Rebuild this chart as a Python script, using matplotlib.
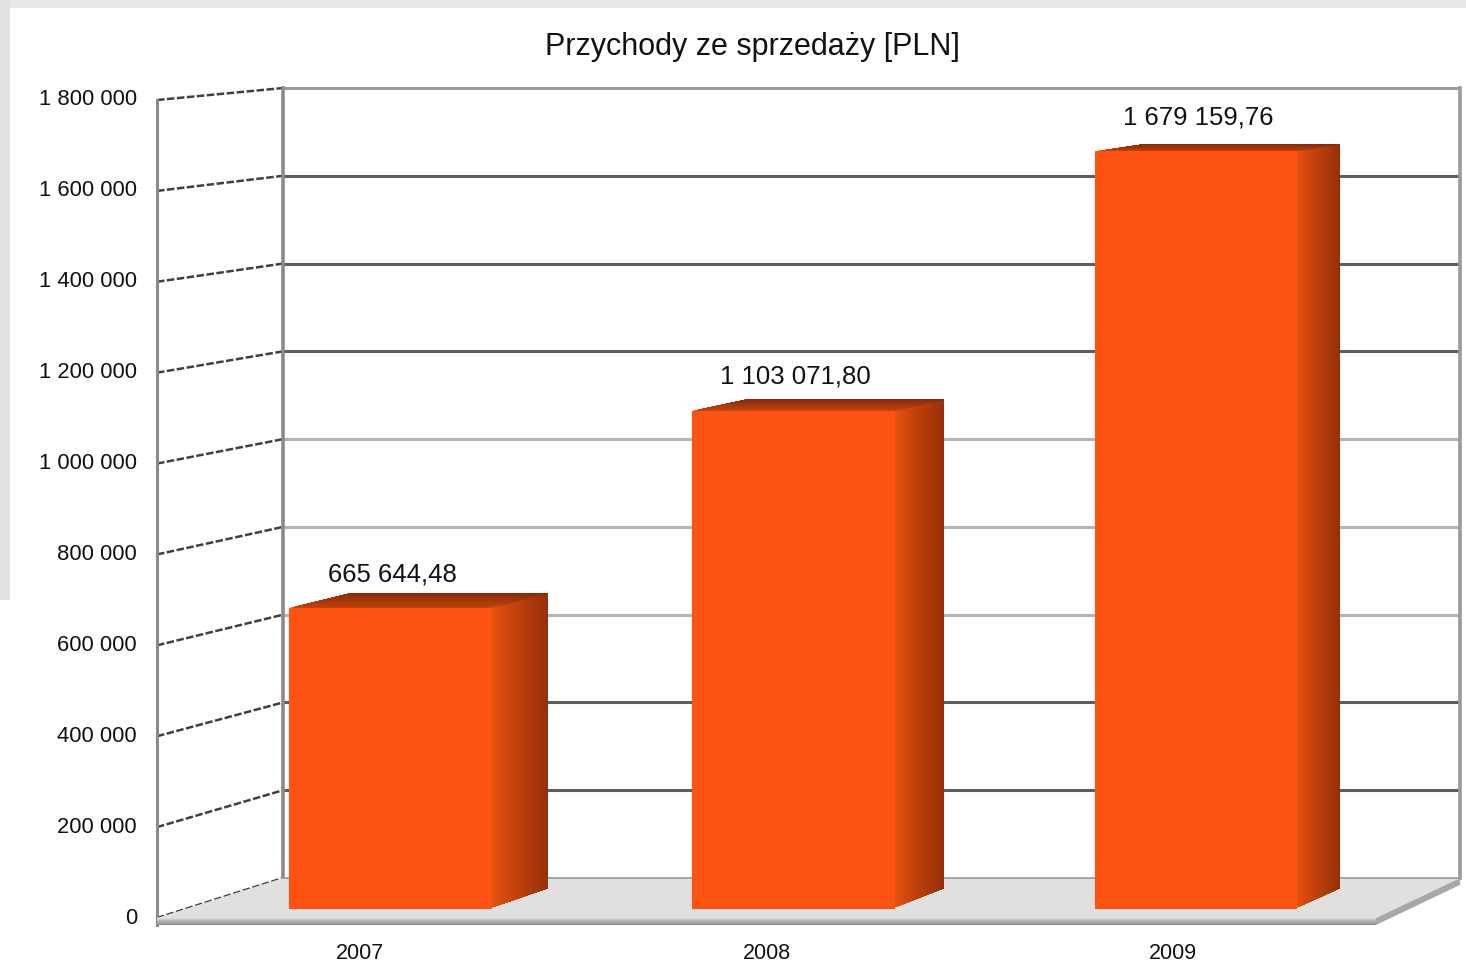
import numpy as np
import matplotlib
matplotlib.use("Agg")
import matplotlib.pyplot as plt
from matplotlib.patches import Polygon, Rectangle
from matplotlib.lines import Line2D
from matplotlib.transforms import IdentityTransform
from matplotlib.colors import to_rgb

# ---------------- data ----------------
years = ["2007", "2008", "2009"]
revenue = [665644.48, 1103071.80, 1679159.76]
y_ticks = [0, 200000, 400000, 600000, 800000, 1000000, 1200000, 1400000, 1600000, 1800000]
title = "Przychody ze sprzedaży [PLN]"

# ---------------- style ----------------
W, H, DPI = 1466, 963, 100
FONT = ["Liberation Sans", "DejaVu Sans"]
plt.rcParams["font.family"] = FONT

fig = plt.figure(figsize=(W / DPI, H / DPI), dpi=DPI)
fig.patch.set_facecolor("white")

# grey frame strips (page background behind the chart)
fig.patches.append(Rectangle((0, 1 - 8 / H), 1, 8 / H, transform=fig.transFigure,
                             facecolor="#e6e6e6", edgecolor="none", zorder=0))
fig.patches.append(Rectangle((0, 1 - 600 / H), 10 / W, 600 / H, transform=fig.transFigure,
                             facecolor="#e2e2e2", edgecolor="none", zorder=0))

# front plane axes
left_px, right_px, bot_px, top_px = 157, 1376, 918, 100
ax = fig.add_axes([left_px / W, (H - bot_px) / H, (right_px - left_px) / W, (bot_px - top_px) / H])
ax.set_xlim(-0.5, len(years) - 0.5)
ax.set_ylim(0, y_ticks[-1])
ax.axis("off")

# perspective: vanishing point in display pixels (origin bottom-left)
VP = np.array([3838.0, H + 250.0])
T_WALL = 0.0342
T_FRONT = 0.0086
T_BACK = 0.0255
BAR_W = 0.5
SLAB = -15400


def P(x, v, t):
    d = ax.transData.transform((x, v))
    return VP + (d - VP) * (1 - t)


def poly(pts, z, **kw):
    p = Polygon(np.array(pts), closed=True, transform=IdentityTransform(), zorder=z, **kw)
    fig.patches.append(p)
    return p


def line(p1, p2, z, **kw):
    a = np.array([p1, p2])
    fig.lines.append(Line2D(a[:, 0], a[:, 1], transform=IdentityTransform(), zorder=z, **kw))


def mix(c1, c2, f):
    a, b = np.array(to_rgb(c1)), np.array(to_rgb(c2))
    return tuple(a + (b - a) * f)


x0, x1 = -0.5, len(years) - 0.5
vmax = y_ticks[-1]

# back wall and left wall
poly([P(x0, 0, T_WALL), P(x1, 0, T_WALL), P(x1, vmax, T_WALL), P(x0, vmax, T_WALL)], 1,
     facecolor="white", edgecolor="none")
poly([P(x0, 0, 0), P(x0, 0, T_WALL), P(x0, vmax, T_WALL), P(x0, vmax, 0)], 1,
     facecolor="white", edgecolor="none")

grid_cols = ["#9a9a9a", "#5e5e5e", "#5e5e5e", "#b4b4b4", "#b4b4b4", "#b4b4b4",
             "#5e5e5e", "#5e5e5e", "#5e5e5e", "#9a9a9a"]
for v, gc in zip(y_ticks, grid_cols):
    if v > 0:
        line(P(x0, v, T_WALL), P(x1, v, T_WALL), 2, color=gc, lw=2.2, solid_capstyle="butt")
    line(P(x0, v, 0), P(x0, v, T_WALL), 2, color="#404040", lw=1.8,
         linestyle=(0, (3.0, 1.0)))

# wall edges
line(P(x0, 0, T_WALL), P(x0, vmax, T_WALL), 3, color="#8a8a8a", lw=2.6)
line(P(x1, 0, T_WALL), P(x1, vmax, T_WALL), 3, color="#9a9a9a", lw=2.6)
line(P(x0, SLAB, 0), P(x0, vmax, 0), 3, color="#8a8a8a", lw=2.2)

# floor slab
poly([P(x0, 0, 0), P(x1, 0, 0), P(x1, 0, T_WALL), P(x0, 0, T_WALL)], 3,
     facecolor="#e0e0e0", edgecolor="none")
n = 6
for k in range(n):
    va = SLAB * k / n
    poly([P(x0, va, 0), P(x1, va, 0), P(x1, SLAB, 0), P(x0, SLAB, 0)], 3,
         facecolor=mix("#d8d8d8", "#8c8c8c", k / (n - 1)), edgecolor="none")
poly([P(x1, 0, 0), P(x1, 0, T_WALL), P(x1, SLAB, T_WALL), P(x1, SLAB, 0)], 3,
     facecolor="#a8a8a8", edgecolor="none")
line(P(x0, 0, T_WALL), P(x1, 0, T_WALL), 3.5, color="#9a9a9a", lw=1.2)

# bars
FRONT = "#fd5312"
NS = 40
for i, v in enumerate(revenue):
    xl, xr = i - BAR_W / 2, i + BAR_W / 2
    # side face, gradient along depth (overlapping strips -> no seams)
    for k in range(NS):
        ta = T_FRONT + (T_BACK - T_FRONT) * k / NS
        f = k / (NS - 1)
        c = mix("#e65310", "#c8440d", f / 0.35) if f < 0.35 else mix("#c8440d", "#983009", (f - 0.35) / 0.65)
        poly([P(xr, 0, ta), P(xr, 0, T_BACK), P(xr, v, T_BACK), P(xr, v, ta)], 4,
             facecolor=c, edgecolor="none")
    # top face, gradient along depth
    for k in range(NS):
        ta = T_FRONT + (T_BACK - T_FRONT) * k / NS
        c = mix("#c4440f", "#8a2c08", k / (NS - 1))
        poly([P(xl, v, ta), P(xr, v, ta), P(xr, v, T_BACK), P(xl, v, T_BACK)], 4,
             facecolor=c, edgecolor="none")
    # front face
    poly([P(xl, 0, T_FRONT), P(xr, 0, T_FRONT), P(xr, v, T_FRONT), P(xl, v, T_FRONT)], 5,
         facecolor=FRONT, edgecolor=FRONT, lw=0.8, joinstyle="miter")
    # value label
    cx, cy = P(i, v, T_FRONT)
    lbl = f"{v:,.2f}".replace(",", " ").replace(".", ",")
    fig.text((cx + 2) / W, (cy + 34) / H, lbl, ha="center", va="center", fontsize=18.5,
             color="#111111", zorder=6)
    # category label
    bx, by = P(i, 0, 0)
    fig.text(bx / W, (by - 35) / H, years[i], ha="center", va="center", fontsize=15.5,
             color="#111111", zorder=6)

# y tick labels
for v in y_ticks:
    px, py = P(x0, v, 0)
    fig.text((px - 20) / W, py / H, f"{v:,}".replace(",", " "), ha="right", va="center",
             fontsize=15.8, color="#111111", zorder=6)

fig.text(752 / W, 1 - 47 / H, title, ha="center", va="center", fontsize=22, color="#111111")

fig.savefig("out.png", dpi=DPI)
